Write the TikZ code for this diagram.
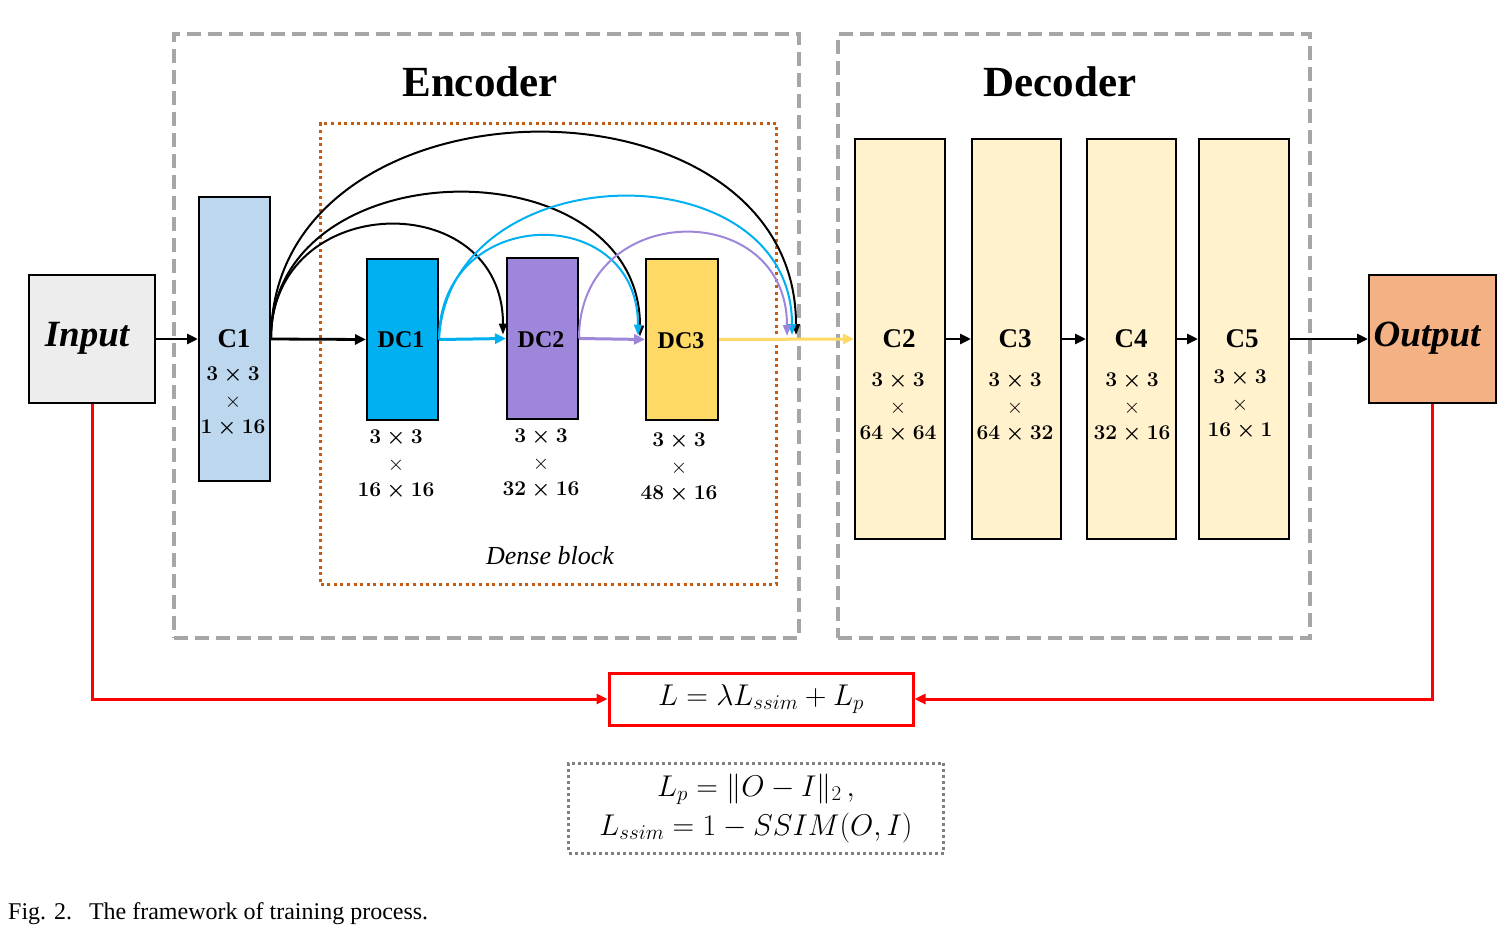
\RequirePackage{fix-cm}
\documentclass[tikz,border=0pt]{standalone}
\usepackage{fontspec}
\setmainfont{Liberation Serif}
\usetikzlibrary{arrows.meta,calc}
\definecolor{gdash}{HTML}{A6A6A6}
\definecolor{org}{HTML}{C55A11}
\definecolor{inpc}{HTML}{EDEDED}
\definecolor{c1c}{HTML}{BDD7EE}
\definecolor{dc1c}{HTML}{00B0F0}
\definecolor{dc2c}{HTML}{9E86DA}
\definecolor{dc3c}{HTML}{FFD966}
\definecolor{decc}{HTML}{FFF2CC}
\definecolor{outc}{HTML}{F4B183}
\definecolor{redc}{HTML}{FF0000}
\definecolor{dgray}{HTML}{808080}
\newcommand{\dims}[2]{{\boldmath$#1$}\\$\times$\\{\boldmath$#2$}}
\begin{document}
\begin{tikzpicture}[x=1pt,y=-1pt,
  blk/.style={draw=black, line width=2pt, inner sep=0pt, anchor=north west},
  grp/.style={draw=gdash, line width=4pt, dash pattern=on 14pt off 7pt, inner sep=0pt, anchor=north west},
  dense/.style={draw=org, line width=3pt, dash pattern=on 3pt off 3.6pt, inner sep=0pt, anchor=north west},
  title/.style={font=\fontsize{43}{50}\selectfont\bfseries},
  lbl/.style={font=\fontsize{27}{30}\selectfont\bfseries},
  dlbl/.style={font=\fontsize{24}{28}\selectfont\bfseries},
  sub/.style={font=\fontsize{21}{26.5}\selectfont\bfseries, align=center, inner sep=0pt},
  io/.style={font=\fontsize{37}{40}\selectfont\bfseries\itshape},
  conn/.style={draw=black, line width=2.8pt, -{Triangle[length=11pt,width=10pt]}},
  arcb/.style={draw=black, line width=2pt, -{Triangle[length=11pt,width=8pt]}},
  arcc/.style={draw=dc1c, line width=2pt, -{Triangle[length=11pt,width=8pt]}},
  arcp/.style={draw=dc2c, line width=2pt, -{Triangle[length=11pt,width=8pt]}},
  carr/.style={line width=3pt, -{Triangle[length=11pt,width=10pt]}},
  redl/.style={draw=redc, line width=3pt, -{Triangle[length=11pt,width=10pt]}},
]
\useasboundingbox (0,0) rectangle (1505,929);

% group boxes
\node[grp, minimum width=625pt, minimum height=604pt] (enc) at (172,32) {};
\node[grp, minimum width=472pt, minimum height=604pt] (dec) at (836,32) {};
\node[title] (enct) at (480,82) {Encoder};
\node[title] (dect) at (1060,82) {Decoder};
\node[dense, minimum width=456pt, minimum height=461pt] (db) at (319,122) {};
\node[font=\fontsize{26}{28}\selectfont\itshape] (dbt) at (550,556) {Dense block};

% blocks
\node[blk, fill=inpc, minimum width=126pt, minimum height=128pt] (in) at (28,274) {};
\node[io] (int) at (87,338) {Input};
\node[blk, fill=c1c, minimum width=71pt, minimum height=284pt] (C1) at (198,196) {};
\node[blk, fill=dc1c, minimum width=71pt, minimum height=161pt] (DC1) at (366,258) {};
\node[blk, fill=dc2c, minimum width=71pt, minimum height=161pt] (DC2) at (506,257) {};
\node[blk, fill=dc3c, minimum width=72pt, minimum height=161pt] (DC3) at (645,258) {};
\node[blk, fill=decc, minimum width=90pt, minimum height=400pt] (C2) at (854,138) {};
\node[blk, fill=decc, minimum width=89pt, minimum height=400pt] (C3) at (971,138) {};
\node[blk, fill=decc, minimum width=89pt, minimum height=400pt] (C4) at (1086,138) {};
\node[blk, fill=decc, minimum width=90pt, minimum height=400pt] (C5) at (1198,138) {};
\node[blk, fill=outc, minimum width=127pt, minimum height=128pt] (out) at (1368,274) {};
\node[io] (outt) at (1427,338) {Output};

% labels
\node[lbl] (C1l) at (234,339) {C1};
\node[dlbl] (DC1l) at (401,340) {DC1};
\node[dlbl] (DC2l) at (541,340) {DC2};
\node[dlbl] (DC3l) at (681,341) {DC3};
\node[lbl] (C2l) at (899,339) {C2};
\node[lbl] (C3l) at (1015,339) {C3};
\node[lbl] (C4l) at (1131,339) {C4};
\node[lbl] (C5l) at (1242,339) {C5};
\node[sub] (C1s) at (233,402) {\dims{3\times3}{1\times16}};
\node[sub] (DC1s) at (396,465) {\dims{3\times3}{16\times16}};
\node[sub] (DC2s) at (541,464) {\dims{3\times3}{32\times16}};
\node[sub] (DC3s) at (679,468) {\dims{3\times3}{48\times16}};
\node[sub] (C2s) at (898,408) {\dims{3\times3}{64\times64}};
\node[sub] (C3s) at (1015,408) {\dims{3\times3}{64\times32}};
\node[sub] (C4s) at (1132,408) {\dims{3\times3}{32\times16}};
\node[sub] (C5s) at (1240,405) {\dims{3\times3}{16\times1}};

% loss boxes
\node[draw=redc, line width=3pt, minimum width=304pt, minimum height=52pt, inner sep=0pt, font=\fontsize{30}{34}\selectfont] (loss) at (761,699) {$L=\lambda L_{ssim}+L_p$};
\node[draw=dgray, line width=3pt, dash pattern=on 3pt off 3pt, minimum width=375pt, minimum height=90pt, inner sep=0pt, align=center, font=\fontsize{30}{39}\selectfont] (defs) at (756,808) {$L_p=\|O-I\|_2\,,$\\$L_{ssim}=1-SSIM(O,I)$};

% caption
\node[anchor=base west, inner sep=0pt, font=\fontsize{24}{26}\selectfont] (cap) at (8,919) {Fig. 2.\hspace{0.7em}The framework of training process.};

% connector end coordinates
\coordinate (e1) at (787,336);
\coordinate (e2) at (792,335);
\coordinate (e3) at (796,335);

% straight connectors
\draw[conn] (in.east) -- (C1.west);
\draw[conn] (C1.east) -- (DC1.west);
\draw[carr, draw=dc1c] (DC1.east) -- (DC2.west);
\draw[carr, draw=dc2c] (DC2.east) -- (DC3.west);
\draw[carr, draw=dc3c] (DC3.east) -- (C2.west);
\draw[conn] (C2.east) -- (C3.west);
\draw[conn] (C3.east) -- (C4.west);
\draw[conn] (C4.east) -- (C5.west);
\draw[conn] (C5.east) -- (out.west);

% dense arcs
\draw[arcb] (C1.east) .. controls +(0,-149) and +(0,-149) .. ([xshift=-3pt,yshift=4pt]DC2.west);
\draw[arcb] (C1.east) .. controls +(0,-193) and +(0,-193) .. ([xshift=-5pt,yshift=3pt]DC3.west);
\draw[arcb] (C1.east) .. controls +(0,-272) and +(0,-272) .. (e3);
\draw[arcc] (DC1.east) .. controls +(0,-135) and +(0,-135) .. ([xshift=-7pt,yshift=4pt]DC3.west);
\draw[arcc] (DC1.east) .. controls +(10,-187) and +(0,-187) .. (e2);
\draw[arcp] (DC2.east) .. controls +(0,-139) and +(0,-139) .. (e1);

% loss lines
\draw[redl] (in.south) |- (loss.west);
\draw[redl] (out.south) |- (loss.east);
\end{tikzpicture}
\end{document}
